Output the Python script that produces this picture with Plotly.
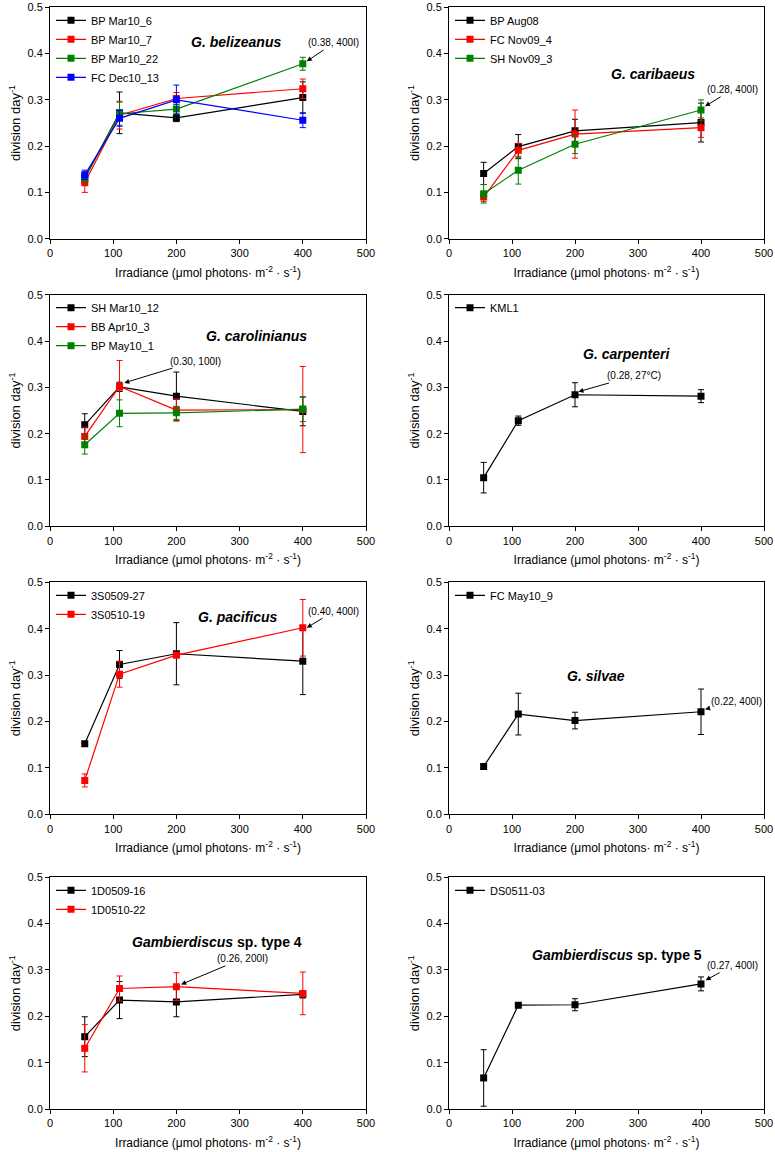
import plotly.graph_objects as go

# ---------------- data ----------------
irradiance = [55, 110, 200, 400]

# G. belizeanus
bel_names = ["BP Mar10_6", "BP Mar10_7", "BP Mar10_22", "FC Dec10_13"]
bel_BP_Mar10_6 = [0.130, 0.272, 0.261, 0.305]
bel_BP_Mar10_6_err = [0.010, 0.045, 0.008, 0.034]
bel_BP_Mar10_7 = [0.121, 0.267, 0.303, 0.324]
bel_BP_Mar10_7_err = [0.021, 0.030, 0.013, 0.021]
bel_BP_Mar10_22 = [0.132, 0.270, 0.280, 0.378]
bel_BP_Mar10_22_err = [0.010, 0.025, 0.010, 0.014]
bel_FC_Dec10_13 = [0.138, 0.260, 0.300, 0.256]
bel_FC_Dec10_13_err = [0.010, 0.017, 0.032, 0.016]

# G. caribaeus
car_names = ["BP Aug08", "FC Nov09_4", "SH Nov09_3"]
car_BP_Aug08 = [0.141, 0.199, 0.233, 0.251]
car_BP_Aug08_err = [0.024, 0.026, 0.025, 0.042]
car_FC_Nov09_4 = [0.090, 0.191, 0.226, 0.240]
car_FC_Nov09_4_err = [0.010, 0.015, 0.052, 0.021]
car_SH_Nov09_3 = [0.097, 0.148, 0.204, 0.278]
car_SH_Nov09_3_err = [0.020, 0.030, 0.020, 0.022]

# G. carolinianus
crl_names = ["SH Mar10_12", "BB Apr10_3", "BP May10_1"]
crl_SH_Mar10_12 = [0.219, 0.301, 0.281, 0.248]
crl_SH_Mar10_12_err = [0.024, 0.010, 0.052, 0.031]
crl_BB_Apr10_3 = [0.194, 0.302, 0.251, 0.252]
crl_BB_Apr10_3_err = [0.020, 0.056, 0.024, 0.093]
crl_BP_May10_1 = [0.176, 0.244, 0.245, 0.253]
crl_BP_May10_1_err = [0.020, 0.029, 0.014, 0.027]

# G. carpenteri
cpt_names = ["KML1"]
cpt_KML1 = [0.105, 0.228, 0.284, 0.281]
cpt_KML1_err = [0.033, 0.010, 0.026, 0.014]

# G. pacificus
pac_names = ["3S0509-27", "3S0510-19"]
pac_3S0509_27 = [0.152, 0.323, 0.346, 0.330]
pac_3S0509_27_err = [0.005, 0.030, 0.067, 0.072]
pac_3S0510_19 = [0.073, 0.302, 0.343, 0.402]
pac_3S0510_19_err = [0.014, 0.028, 0.005, 0.061]

# G. silvae
sil_names = ["FC May10_9"]
sil_FC_May10_9 = [0.103, 0.216, 0.202, 0.221]
sil_FC_May10_9_err = [0.005, 0.045, 0.018, 0.049]

# Gambierdiscus sp. type 4
t4_names = ["1D0509-16", "1D0510-22"]
t4_1D0509_16 = [0.156, 0.235, 0.231, 0.2475]
t4_1D0509_16_err = [0.043, 0.040, 0.032, 0.008]
t4_1D0510_22 = [0.131, 0.260, 0.264, 0.2495]
t4_1D0510_22_err = [0.051, 0.027, 0.030, 0.046]

# Gambierdiscus sp. type 5
t5_names = ["DS0511-03"]
t5_DS0511_03 = [0.067, 0.224, 0.225, 0.270]
t5_DS0511_03_err = [0.061, 0.003, 0.013, 0.015]

x_ticks = [0, 100, 200, 300, 400, 500]
y_ticks = [0.0, 0.1, 0.2, 0.3, 0.4, 0.5]

# annotation labels: (text, x, y of arrow head)
labels = [
    ("(0.38, 400I)", 405, 0.382),
    ("(0.28, 400I)", 405, 0.285),
    ("(0.30, 100I)", 116, 0.309),
    ("(0.28, 27°C)", 204, 0.290),
    ("(0.40, 400I)", 405, 0.401),
    ("(0.22, 400I)", 405, 0.226),
    ("(0.26, 200I)", 206, 0.268),
    ("(0.27, 400I)", 406, 0.277),
]
species = [
    ("<b><i>G. belizeanus</i></b>", 294, 0.426),
    ("<b><i>G. caribaeus</i></b>", 324, 0.356),
    ("<b><i>G. carolinianus</i></b>", 327, 0.410),
    ("<b><i>G. carpenteri</i></b>", 281, 0.372),
    ("<b><i>G. pacificus</i></b>", 297, 0.426),
    ("<b><i>G. silvae</i></b>", 233, 0.297),
    ("<b><i>Gambierdiscus</i> sp. type 4</b>", 264, 0.361),
    ("<b><i>Gambierdiscus</i> sp. type 5</b>", 267, 0.332),
]

# ---------------- layout geometry ----------------
W, H = 775, 1152
FONT = "Liberation Sans, Arial, sans-serif"
BLACK, RED, GREEN, BLUE = "#000000", "#ff0000", "#008000", "#0000ff"

col_px = [(50, 366), (449, 764)]
row_px = [(7.3, 238.7), (294.7, 526.3), (582.3, 814.3), (877.3, 1109.0)]
# label offsets (ax, ay) in pixels for each panel
label_offsets = [(28, -19), (28, -17), (72, -22), (56, -16), (28, -17), (32, -8), (62, -26), (28, -15)]

panels = [
    [(bel_names[0], bel_BP_Mar10_6, bel_BP_Mar10_6_err, BLACK),
     (bel_names[1], bel_BP_Mar10_7, bel_BP_Mar10_7_err, RED),
     (bel_names[2], bel_BP_Mar10_22, bel_BP_Mar10_22_err, GREEN),
     (bel_names[3], bel_FC_Dec10_13, bel_FC_Dec10_13_err, BLUE)],
    [(car_names[0], car_BP_Aug08, car_BP_Aug08_err, BLACK),
     (car_names[1], car_FC_Nov09_4, car_FC_Nov09_4_err, RED),
     (car_names[2], car_SH_Nov09_3, car_SH_Nov09_3_err, GREEN)],
    [(crl_names[0], crl_SH_Mar10_12, crl_SH_Mar10_12_err, BLACK),
     (crl_names[1], crl_BB_Apr10_3, crl_BB_Apr10_3_err, RED),
     (crl_names[2], crl_BP_May10_1, crl_BP_May10_1_err, GREEN)],
    [(cpt_names[0], cpt_KML1, cpt_KML1_err, BLACK)],
    [(pac_names[0], pac_3S0509_27, pac_3S0509_27_err, BLACK),
     (pac_names[1], pac_3S0510_19, pac_3S0510_19_err, RED)],
    [(sil_names[0], sil_FC_May10_9, sil_FC_May10_9_err, BLACK)],
    [(t4_names[0], t4_1D0509_16, t4_1D0509_16_err, BLACK),
     (t4_names[1], t4_1D0510_22, t4_1D0510_22_err, RED)],
    [(t5_names[0], t5_DS0511_03, t5_DS0511_03_err, BLACK)],
]

fig = go.Figure()
layout = dict(
    width=W, height=H, margin=dict(l=0, r=0, t=0, b=0, autoexpand=False),
    paper_bgcolor="white", plot_bgcolor="white",
    font=dict(family=FONT, size=11, color="black"),
    showlegend=True,
)
annotations = []

for i, series in enumerate(panels):
    r, c = divmod(i, 2)
    x0, x1 = col_px[c]
    y0, y1 = row_px[r]
    n = i + 1
    xa = "xaxis" if n == 1 else f"xaxis{n}"
    ya = "yaxis" if n == 1 else f"yaxis{n}"
    xref = "x" if n == 1 else f"x{n}"
    yref = "y" if n == 1 else f"y{n}"
    lg = "legend" if n == 1 else f"legend{n}"

    axis_common = dict(
        showline=True, linecolor="black", linewidth=1, mirror=True,
        ticks="outside", ticklen=4, tickwidth=1, tickcolor="black",
        showgrid=False, zeroline=False, automargin=False,
        tickfont=dict(family=FONT, size=11, color="black"),
    )
    layout[xa] = dict(
        domain=[x0 / W, x1 / W], anchor=yref, range=[0, 500],
        tickvals=x_ticks,
        title=dict(text="Irradiance (μmol photons· m<sup>-2</sup> · s<sup>-1</sup>)",
                   font=dict(family=FONT, size=12), standoff=10),
        **axis_common,
    )
    layout[ya] = dict(
        domain=[1 - y1 / H, 1 - y0 / H], anchor=xref, range=[0, 0.5],
        tickvals=y_ticks, tickformat=".1f",
        title=dict(text="division day<sup>-1</sup>", font=dict(family=FONT, size=13), standoff=3),
        **axis_common,
    )
    layout[lg] = dict(
        x=(x0 + 1) / W, y=min(1.0, 1 - (y0 - 1.5) / H), xanchor="left", yanchor="top",
        bgcolor="rgba(0,0,0,0)", borderwidth=0, itemwidth=30,
        font=dict(family=FONT, size=11, color="black"),
        tracegroupgap=0, traceorder="normal",
    )

    for name, vals, errs, color in series:
        fig.add_trace(go.Scatter(
            x=irradiance, y=vals, name=name, mode="lines+markers",
            xaxis=xref, yaxis=yref, legend=lg,
            line=dict(color=color, width=1.2),
            marker=dict(symbol="square", size=7, color=color),
            error_y=dict(type="data", array=errs, visible=True, color=color,
                         thickness=1, width=3),
        ))

    txt, hx, hy = labels[i]
    axo, ayo = label_offsets[i]
    annotations.append(dict(
        text=txt, x=hx, y=hy, xref=xref, yref=yref, showarrow=True,
        ax=axo, ay=ayo, arrowhead=2, arrowsize=1, arrowwidth=1, arrowcolor="black",
        font=dict(family=FONT, size=10, color="black"), standoff=1,
    ))
    st, sx, sy = species[i]
    annotations.append(dict(
        text=st, x=sx, y=sy, xref=xref, yref=yref, showarrow=False,
        font=dict(family=FONT, size=14, color="black"),
    ))

layout["annotations"] = annotations
fig.update_layout(**layout)
# remove the page's default body margin so the figure sits at the window's corner
fig.write_html("out.html", config={"displayModeBar": False},
               post_script="document.body.style.margin='0';")
